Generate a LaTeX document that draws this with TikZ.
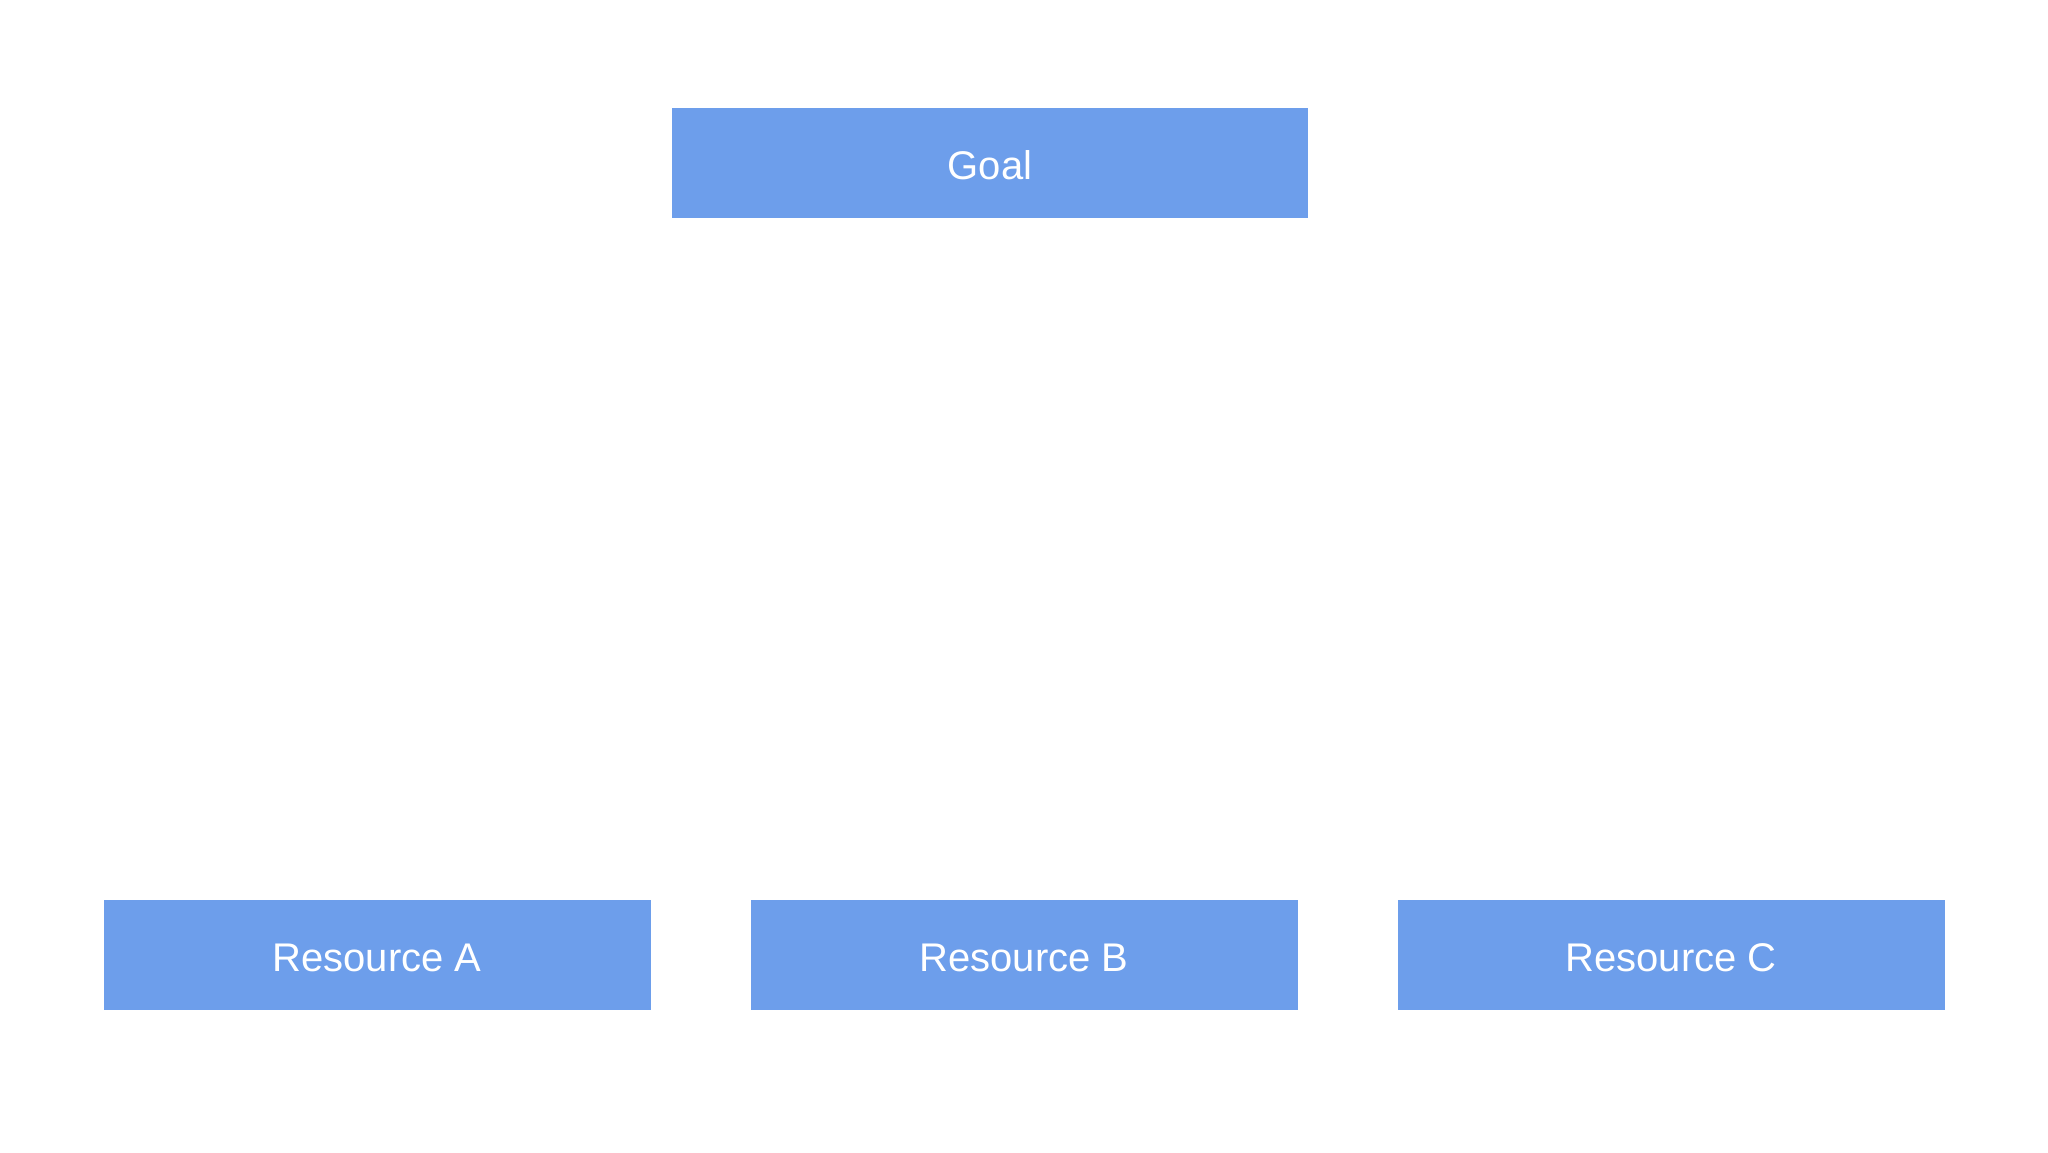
\documentclass[tikz,border=0pt]{standalone}
\usepackage{fontspec}
\setmainfont{Liberation Sans}
\definecolor{boxblue}{HTML}{6D9EEB}
\tikzset{
  box/.style={fill=boxblue, text=white, inner sep=0pt, minimum height=110pt,
    text height=33pt, text depth=0pt, font=\fontsize{40}{48}\selectfont},
  goalbox/.style={box, minimum width=636pt},
  resbox/.style={box, minimum width=547pt}
}
\begin{document}
\begin{tikzpicture}[x=1pt, y=1pt]
\useasboundingbox[fill=white] (0,0) rectangle (2048,1152);
\node[goalbox] (goal) at (990, 989) {Goal};
\node[resbox] (resA) at (377, 197) {Resource A};
\node[resbox] (resB) at (1024, 197) {Resource B};
\node[resbox] (resC) at (1671, 197) {Resource C};
\end{tikzpicture}
\end{document}
